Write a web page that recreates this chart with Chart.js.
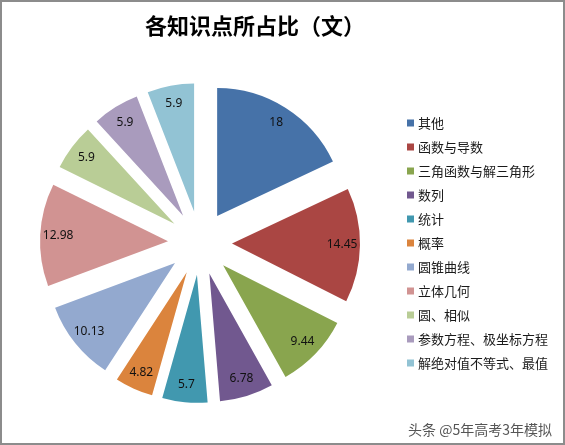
<!DOCTYPE html>
<html><head><meta charset="utf-8">
<script src="https://cdn.jsdelivr.net/npm/chart.js@4"></script>
<style>html,body{margin:0;padding:0;background:#fff;}canvas{display:block;}</style>
</head><body>
<canvas id="c" width="565" height="445"></canvas>
<script>
const titleText = '各知识点所占比（文）';
const categories = ['其他','函数与导数','三角函数与解三角形','数列','统计','概率','圆锥曲线','立体几何','圆、相似','参数方程、极坐标方程','解绝对值不等式、最值'];
const values = [18, 14.45, 9.44, 6.78, 5.7, 4.82, 10.13, 12.98, 5.9, 5.9, 5.9];
const colors = ['#4672A8','#AA4643','#89A54E','#71588F','#4198AF','#DB843D','#93A9CF','#D19392','#B9CD96','#A99BBD','#92C3D4'];
const watermark = '头条 @5年高考3年模拟';

const EXPLODE = 32;

const explodePlugin = {
  id: 'explode',
  beforeDatasetDraw(chart, args) {
    const ctx = chart.ctx;
    args.meta.data.forEach(arc => {
      const mid = (arc.startAngle + arc.endAngle) / 2;
      ctx.save();
      ctx.translate(Math.cos(mid) * EXPLODE, Math.sin(mid) * EXPLODE);
      arc.draw(ctx);
      ctx.restore();
    });
    return false;
  }
};

const decorPlugin = {
  id: 'decor',
  afterDraw(chart) {
    const ctx = chart.ctx;
    ctx.save();
    // data labels
    const meta = chart.getDatasetMeta(0);
    ctx.font = '12px "Noto Sans", sans-serif';
    ctx.fillStyle = '#111';
    ctx.textAlign = 'center';
    ctx.textBaseline = 'middle';
    meta.data.forEach((arc, i) => {
      const mid = (arc.startAngle + arc.endAngle) / 2;
      const d = EXPLODE + 0.86 * arc.outerRadius;
      ctx.fillText(String(values[i]), arc.x + Math.cos(mid) * d, arc.y + Math.sin(mid) * d);
    });
    // title
    ctx.font = 'bold 22px "Noto Sans CJK SC", sans-serif';
    ctx.fillStyle = '#000';
    ctx.fillText(titleText, 255, 26);
    // legend
    ctx.textAlign = 'left';
    ctx.font = '13px "Noto Sans CJK SC", sans-serif';
    categories.forEach((c, i) => {
      const y = 123 + i * 24;
      ctx.fillStyle = colors[i];
      ctx.fillRect(407, y - 3.5, 7, 7);
      ctx.fillStyle = '#1a1a1a';
      ctx.fillText(c, 418, y);
    });
    // watermark
    ctx.textAlign = 'right';
    ctx.font = '14px "Noto Sans CJK SC", sans-serif';
    ctx.lineWidth = 3;
    ctx.strokeStyle = '#fff';
    ctx.strokeText(watermark, 552, 430);
    ctx.fillStyle = '#555';
    ctx.fillText(watermark, 552, 430);
    // border
    ctx.lineWidth = 2;
    ctx.strokeStyle = '#8c8c8c';
    ctx.strokeRect(1, 1, 563, 443);
    ctx.restore();
  }
};

new Chart(document.getElementById('c'), {
  type: 'pie',
  data: {
    labels: categories,
    datasets: [{
      data: values,
      backgroundColor: colors,
      borderWidth: 0,
      offset: 0,
      clip: false
    }]
  },
  options: {
    responsive: false,
    animation: false,
    events: [],
    radius: 128,
    layout: { padding: { left: 40, right: 205, top: 82, bottom: 41 } },
    plugins: {
      legend: { display: false },
      title: { display: false },
      tooltip: { enabled: false }
    }
  },
  plugins: [explodePlugin, decorPlugin]
});
</script>
</body></html>
